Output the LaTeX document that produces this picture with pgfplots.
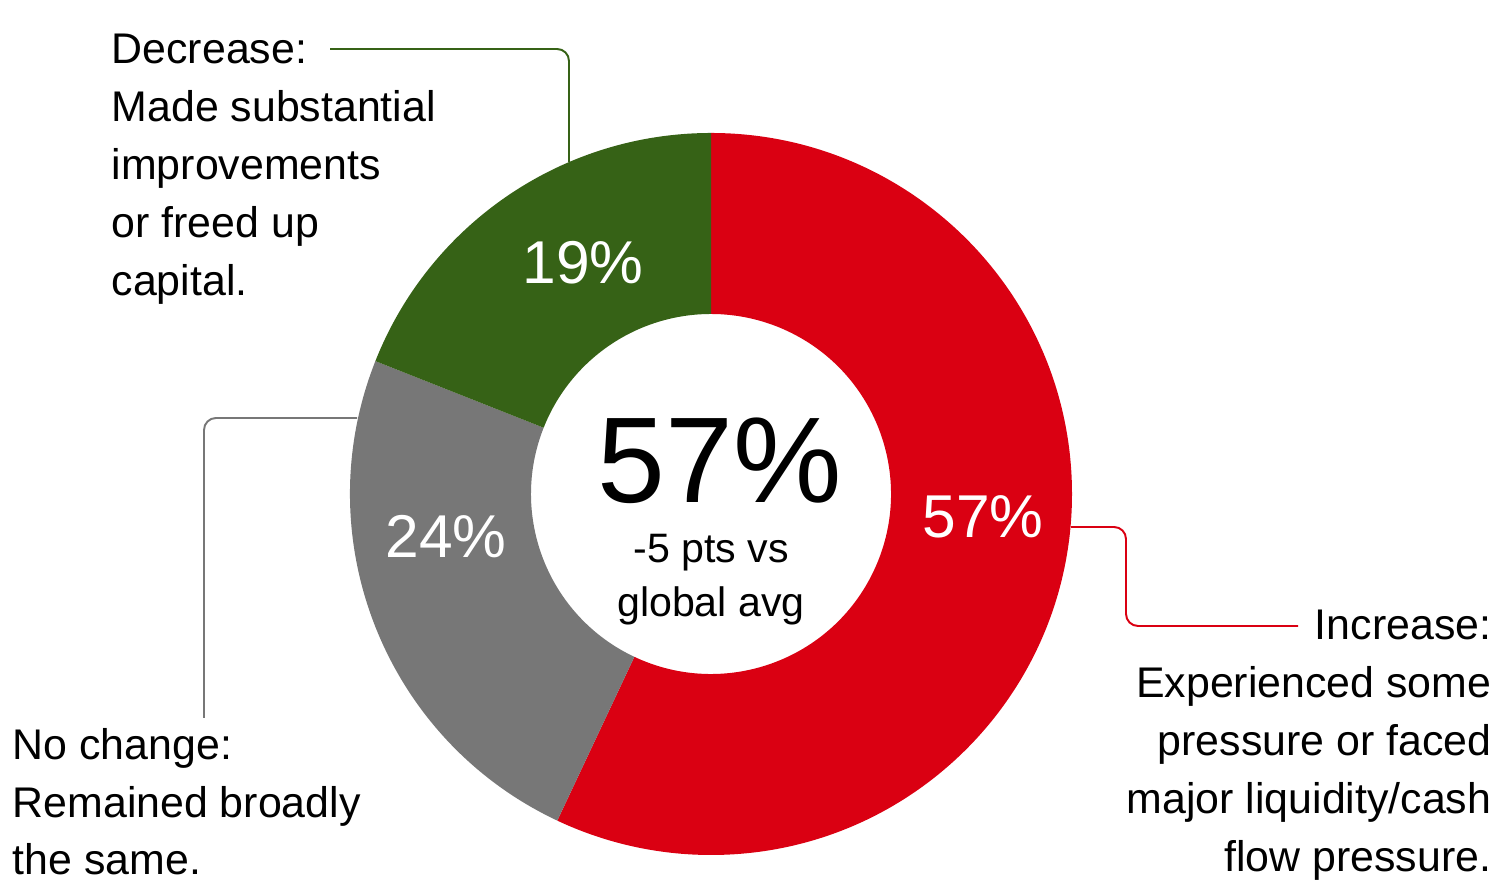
\documentclass[border=0pt]{standalone}
\usepackage{pgfplots}
\usepackage{pgfplotstable}
\pgfplotsset{compat=1.18}
\usepackage{fontspec}
\setmainfont{Liberation Sans}

\definecolor{incred}{RGB}{218,0,18}
\definecolor{decgreen}{RGB}{54,98,22}
\definecolor{nogray}{RGB}{119,119,119}

% shares in percent, clockwise from 12 o'clock
\pgfplotstableread{
cat value
Increase 57
Nochange 24
Decrease 19
}\shares

\pgfplotstablegetelem{0}{value}\of\shares \let\vinc\pgfplotsretval
\pgfplotstablegetelem{1}{value}\of\shares \let\vnoc\pgfplotsretval
\pgfplotstablegetelem{2}{value}\of\shares \let\vdec\pgfplotsretval

\pgfmathsetmacro{\aA}{90}
\pgfmathsetmacro{\aB}{90-3.6*\vinc}
\pgfmathsetmacro{\aC}{\aB-3.6*\vnoc}
\pgfmathsetmacro{\aD}{\aC-3.6*\vdec}

% pixel grid: 1 unit = 0.1mm, y measured from bottom
\newcommand{\px}[2]{(axis cs:#1,{881-#2})}
\newcommand{\sector}[3]{% color, start angle, end angle
  \fill[#1] (axis cs:711,387) ++(#2:36.1mm) arc[start angle=#2, end angle=#3, radius=36.1mm]
    -- ++({#3+180}:18.1mm) arc[start angle=#3, end angle=#2, radius=18mm] -- cycle;}
\newcommand{\lab}[3]{\node[anchor=#1, inner sep=0pt, font=\fontsize{12.2}{14}\selectfont] at #2 {#3};}

\begin{document}
\begin{tikzpicture}
\begin{axis}[
  scale only axis,
  width=14.95cm, height=8.81cm,
  xmin=0, xmax=1495, ymin=0, ymax=881,
  hide axis, clip=false,
]
\sector{incred}{\aA}{\aB}
\sector{nogray}{\aB}{\aC}
\sector{decgreen}{\aC}{\aD}

% leader lines
\draw[decgreen, line width=0.55pt, rounded corners=1.2mm] \px{330}{49} -- \px{569}{49} -- \px{569}{162};
\draw[nogray, line width=0.55pt, rounded corners=1.2mm] \px{357}{418} -- \px{204}{418} -- \px{204}{718};
\draw[incred, line width=0.55pt, rounded corners=1.2mm] \px{1071}{527} -- \px{1126}{527} -- \px{1126}{626} -- \px{1298}{626};

% values in the ring
\node[white, anchor=base, font=\fontsize{17.2}{20}\selectfont] at \px{983}{538} {\vinc\%};
\node[white, anchor=base, font=\fontsize{17.2}{20}\selectfont] at \px{446}{558} {\vnoc\%};
\node[white, anchor=base, font=\fontsize{17.2}{20}\selectfont] at \px{583}{284} {\vdec\%};

% centre
\node[anchor=base, font=\fontsize{34.7}{40}\selectfont] at \px{720}{503} {57\%};
\node[anchor=base, font=\fontsize{11.7}{14}\selectfont] at \px{711}{563} {-5 pts vs};
\node[anchor=base, font=\fontsize{11.7}{14}\selectfont] at \px{711}{617} {global avg};

% category labels
\lab{base west}{\px{111}{64}}{Decrease:}
\lab{base west}{\px{111}{122}}{Made substantial}
\lab{base west}{\px{111}{180}}{improvements}
\lab{base west}{\px{111}{238}}{or freed up}
\lab{base west}{\px{111}{296}}{capital.}
\lab{base west}{\px{12}{760}}{No change:}
\lab{base west}{\px{12}{818}}{Remained broadly}
\lab{base west}{\px{12}{875}}{the same.}
\lab{base east}{\px{1492}{640}}{Increase:}
\lab{base east}{\px{1492}{698}}{Experienced some}
\lab{base east}{\px{1492}{756}}{pressure or faced}
\lab{base east}{\px{1492}{814}}{major liquidity/cash}
\lab{base east}{\px{1492}{872}}{flow pressure.}
\end{axis}
\pgfresetboundingbox
\path (0,0) rectangle (14.95cm,8.81cm);
\end{tikzpicture}
\end{document}
